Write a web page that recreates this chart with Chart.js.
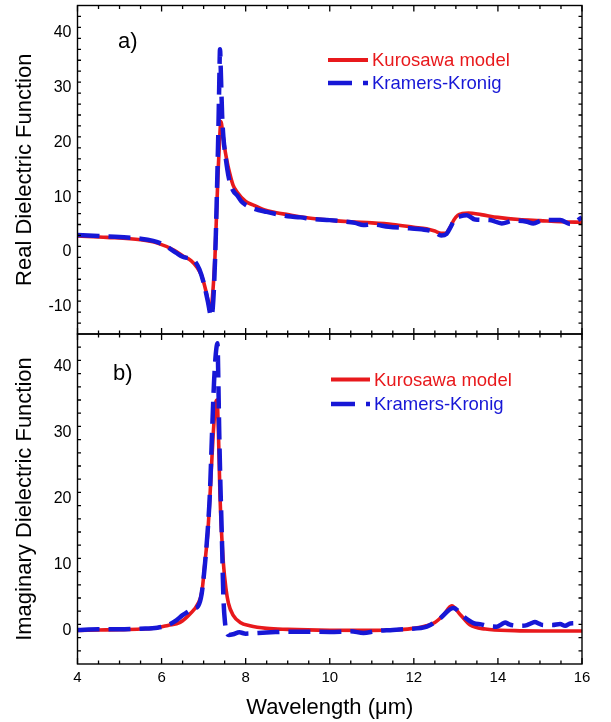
<!DOCTYPE html>
<html><head><meta charset="utf-8">
<script src="https://cdn.jsdelivr.net/npm/chart.js@4.4.1/dist/chart.umd.min.js"></script>
<style>
html,body{margin:0;padding:0;background:#fff;}
#wrap{position:relative;width:611px;height:722px;overflow:hidden;background:#fff;}
#c1{position:absolute;left:0;top:0;}
#c2{position:absolute;left:0;top:330px;}
</style></head><body>
<div id="wrap">
<canvas id="c2" width="611" height="392"></canvas>
<canvas id="c1" width="611" height="340"></canvas>
</div>
<script>
// ---------------- DATA ----------------
const seriesNames = ['Kurosawa model', 'Kramers-Kronig'];
const panelLabels = ['a)', 'b)'];
const yTitles = ['Real Dielectric Function', 'Imaginary Dielectric Function'];
const xTitle = 'Wavelength (\u03bcm)';
const xTicks = [4, 6, 8, 10, 12, 14, 16];
const topYTicks = [-10, 0, 10, 20, 30, 40];
const bottomYTicks = [0, 10, 20, 30, 40];

// (a) real part, Kurosawa model
const realModelX = [4.0,4.7,5.5,5.9,6.3,6.5,6.7,6.85,6.95,7.05,7.1,7.15,7.2,7.24,7.27,7.31,7.35,7.38,7.41,7.45,7.5,7.55,7.6,7.7,7.8,8.0,8.2,8.4,8.7,9.0,9.5,10.0,10.5,11.0,11.5,12.0,12.3,12.5,12.65,12.75,12.85,12.95,13.05,13.15,13.3,13.6,14.0,14.5,15.0,15.5,16.0];
const realModelY = [2.9,2.65,2.2,1.6,0.3,-0.7,-1.6,-2.9,-4.3,-7.0,-8.8,-10.6,-9.0,-5.0,-0.9,7.5,15.6,20.5,23.8,22.0,19.0,16.8,15.0,12.2,10.9,9.2,8.5,7.8,7.2,6.8,6.2,5.8,5.5,5.3,5.0,4.5,4.2,3.8,3.4,3.4,4.3,5.8,6.7,7.0,7.1,6.8,6.3,5.9,5.7,5.5,5.4];
// (a) real part, Kramers-Kronig
const realKKX = [4.0,4.5,5.0,5.5,5.8,6.0,6.2,6.35,6.5,6.6,6.7,6.8,6.9,7.0,7.1,7.18,7.22,7.26,7.29,7.32,7.35,7.37,7.39,7.405,7.42,7.44,7.47,7.52,7.6,7.7,7.8,7.9,8.0,8.2,8.5,8.8,9.0,9.3,9.6,10.0,10.3,10.6,10.8,11.0,11.4,11.9,12.3,12.5,12.65,12.78,12.88,12.98,13.1,13.26,13.46,13.81,14.09,14.37,14.69,14.84,15.08,15.48,15.72,16.0];
const realKKY = [3.1,2.9,2.7,2.4,2.0,1.5,0.6,-0.2,-0.9,-1.1,-1.2,-1.8,-3.2,-5.6,-9.0,-11.8,-10.0,-4.0,3.0,12.0,22.0,30.0,37.0,34.0,30.0,25.0,21.0,17.5,13.5,11.2,10.3,9.2,8.6,7.9,7.3,6.8,6.5,6.3,6.0,5.8,5.6,5.3,4.9,5.0,4.6,4.3,4.0,3.6,3.0,3.3,4.6,6.1,6.5,6.7,5.9,5.8,5.2,5.7,5.5,5.2,5.8,5.8,5.1,6.3];

// (b) imaginary part, Kurosawa model
const imagModelX = [4.0,4.5,5.0,5.5,5.9,6.15,6.44,6.68,6.87,6.96,7.03,7.1,7.15,7.2,7.24,7.29,7.32,7.35,7.37,7.39,7.43,7.47,7.53,7.59,7.7,7.87,8.1,8.5,9.0,10.0,11.0,11.6,12.0,12.3,12.5,12.7,12.9,13.1,13.34,13.7,14.4,15.0,16.0];
const imagModelY = [0.1,0.15,0.2,0.3,0.5,0.85,1.3,2.6,4.2,6.0,10.3,15.0,20.3,26.5,31.0,34.6,35.0,30.5,25.5,20.3,14.5,10.3,6.5,4.2,2.4,1.3,0.8,0.4,0.25,0.12,0.1,0.2,0.4,0.8,1.3,2.4,3.8,2.5,0.9,0.3,0.05,0.0,0.0];
// (b) imaginary part, Kramers-Kronig
const imagKKX = [4.0,4.5,5.0,5.5,5.9,6.15,6.35,6.5,6.6,6.75,6.87,6.95,7.03,7.1,7.15,7.2,7.25,7.29,7.33,7.35,7.37,7.4,7.43,7.47,7.51,7.56,7.6,7.7,7.85,8.0,8.3,8.6,9.0,9.5,10.0,10.5,10.8,11.1,11.5,11.83,12.31,12.62,12.94,13.18,13.42,13.6,13.73,13.97,14.08,14.17,14.27,14.37,14.55,14.69,14.8,14.88,14.98,15.08,15.3,15.48,15.6,15.72,15.85,15.95,16.0];
const imagKKY = [0.15,0.25,0.25,0.35,0.5,0.9,1.6,2.4,2.8,3.4,3.8,5.5,10.0,15.5,21.0,30.0,38.0,42.0,43.6,38.0,30.5,22.0,15.3,5.2,1.2,-0.4,-0.6,-0.5,-0.2,-0.4,-0.3,-0.2,-0.1,-0.1,-0.15,-0.05,-0.3,0.0,0.15,0.3,0.65,1.9,3.5,2.2,1.2,1.0,0.8,0.65,1.0,1.3,1.0,0.85,0.8,0.9,1.2,1.35,1.1,0.9,0.9,1.05,0.8,1.15,1.2,1.55,1.5];

// ---------------- STYLE ----------------
const FONT = "'Liberation Sans', Arial, Helvetica, sans-serif";
const RED = '#e8191c';
const BLUE = '#1717d6';
const DASH = [22, 9];
Chart.defaults.font.family = FONT;
Chart.defaults.color = '#000';

function pts(xs, ys) { return xs.map((x, i) => ({ x: x, y: ys[i] })); }

function framePlugin(cfg) {
  return {
    id: 'frame' + cfg.idx,
    afterDatasetsDraw(chart) {
      const ctx = chart.ctx, a = chart.chartArea;
      const x = chart.scales.x, y = chart.scales.y;
      ctx.save();
      ctx.strokeStyle = '#000';
      ctx.lineWidth = 1.3;
      ctx.setLineDash([]);
      ctx.beginPath();
      const isMajorX = v => xTicks.some(t => Math.abs(t - v) < 1e-6);
      for (let v = x.min; v <= x.max + 1e-6; v += 0.5) {
        const px = x.getPixelForValue(v);
        const len = isMajorX(v) ? 6 : 3.5;
        ctx.moveTo(px, a.bottom); ctx.lineTo(px, a.bottom - len);
        ctx.moveTo(px, a.top); ctx.lineTo(px, a.top + len);
      }
      const isMajorY = v => cfg.yTicks.some(t => Math.abs(t - v) < 1e-6);
      for (let v = y.min; v <= y.max + 1e-6; v += 2) {
        const py = y.getPixelForValue(v);
        if (py <= a.top + 0.5 || py >= a.bottom - 0.5) continue;
        const len = isMajorY(v) ? 6 : 3.5;
        ctx.moveTo(a.left, py); ctx.lineTo(a.left + len, py);
        ctx.moveTo(a.right, py); ctx.lineTo(a.right - len, py);
      }
      ctx.stroke();
      ctx.lineWidth = 1.4;
      ctx.strokeRect(a.left, a.top, a.right - a.left, a.bottom - a.top);

      // panel label
      ctx.fillStyle = '#000';
      ctx.font = '22px ' + FONT;
      ctx.textBaseline = 'middle';
      ctx.textAlign = 'left';
      ctx.fillText(panelLabels[cfg.idx], cfg.labelX, cfg.labelY);

      // legend
      const L = cfg.legend;
      ctx.lineWidth = 4;
      ctx.lineCap = 'butt';
      ctx.strokeStyle = RED;
      ctx.beginPath(); ctx.moveTo(L.x0, L.y0); ctx.lineTo(L.x1, L.y0); ctx.stroke();
      ctx.strokeStyle = BLUE;
      ctx.lineWidth = 4.5;
      ctx.setLineDash([24, 11]);
      ctx.beginPath(); ctx.moveTo(L.x0, L.y1); ctx.lineTo(L.x1, L.y1); ctx.stroke();
      ctx.setLineDash([]);
      ctx.font = '18.5px ' + FONT;
      ctx.fillStyle = RED;
      ctx.fillText(seriesNames[0], L.tx, L.y0 + 1);
      ctx.fillStyle = BLUE;
      ctx.fillText(seriesNames[1], L.tx, L.y1 + 1);
      ctx.restore();
    }
  };
}

function makeChart(canvasId, cfg) {
  return new Chart(document.getElementById(canvasId), {
    type: 'line',
    data: {
      datasets: [
        { label: seriesNames[1], data: pts(cfg.kkX, cfg.kkY), borderColor: BLUE, borderWidth: 4.5,
          borderDash: DASH, pointRadius: 0, cubicInterpolationMode: 'monotone', order: 0, fill: false },
        { label: seriesNames[0], data: pts(cfg.mX, cfg.mY), borderColor: RED, borderWidth: 3.6,
          pointRadius: 0, cubicInterpolationMode: 'monotone', order: 1, fill: false }
      ]
    },
    options: {
      responsive: false,
      animation: false,
      events: [],
      layout: { padding: cfg.padding },
      plugins: { legend: { display: false }, tooltip: { enabled: false } },
      scales: {
        x: {
          type: 'linear', min: 4, max: 16,
          display: cfg.showX,
          grid: { display: false, drawTicks: false },
          border: { display: false },
          afterBuildTicks: s => { s.ticks = xTicks.map(v => ({ value: v })); },
          afterFit: s => { if (cfg.showX) s.height = 58; s.paddingLeft = 0; s.paddingRight = 0; },
          ticks: { font: { size: 15 }, color: '#000', padding: 5, maxRotation: 0 },
          title: { display: cfg.showX, text: xTitle, font: { size: 22 }, color: '#000', padding: { top: 0, bottom: 1 } }
        },
        y: {
          type: 'linear', min: cfg.yMin, max: cfg.yMax,
          grid: { display: false, drawTicks: false },
          border: { display: false },
          afterBuildTicks: s => { s.ticks = cfg.yTicks.map(v => ({ value: v })); },
          afterFit: s => { s.width = 77.5; s.paddingTop = 0; s.paddingBottom = 0; },
          ticks: { font: { size: 16 }, color: '#000', padding: 6 },
          title: { display: true, text: yTitles[cfg.idx], font: { size: 22 }, color: '#000', padding: { top: 12, bottom: 0 } }
        }
      }
    },
    plugins: [framePlugin(cfg)]
  });
}

makeChart('c1', {
  idx: 0, mX: realModelX, mY: realModelY, kkX: realKKX, kkY: realKKY,
  yMin: -15, yMax: 45, yTicks: topYTicks, showX: false,
  padding: { top: 5.5, right: 29, bottom: 6, left: 0 },
  labelX: 118, labelY: 42,
  legend: { x0: 328, x1: 368, tx: 372, y0: 60, y1: 83 }
});
makeChart('c2', {
  idx: 1, mX: imagModelX, mY: imagModelY, kkX: imagKKX, kkY: imagKKY,
  yMin: -5, yMax: 45, yTicks: bottomYTicks, showX: true,
  padding: { top: 4, right: 29, bottom: 0, left: 0 },
  labelX: 113, labelY: 43.5,
  legend: { x0: 331, x1: 370, tx: 374, y0: 49.5, y1: 74 }
});
</script>
</body></html>
